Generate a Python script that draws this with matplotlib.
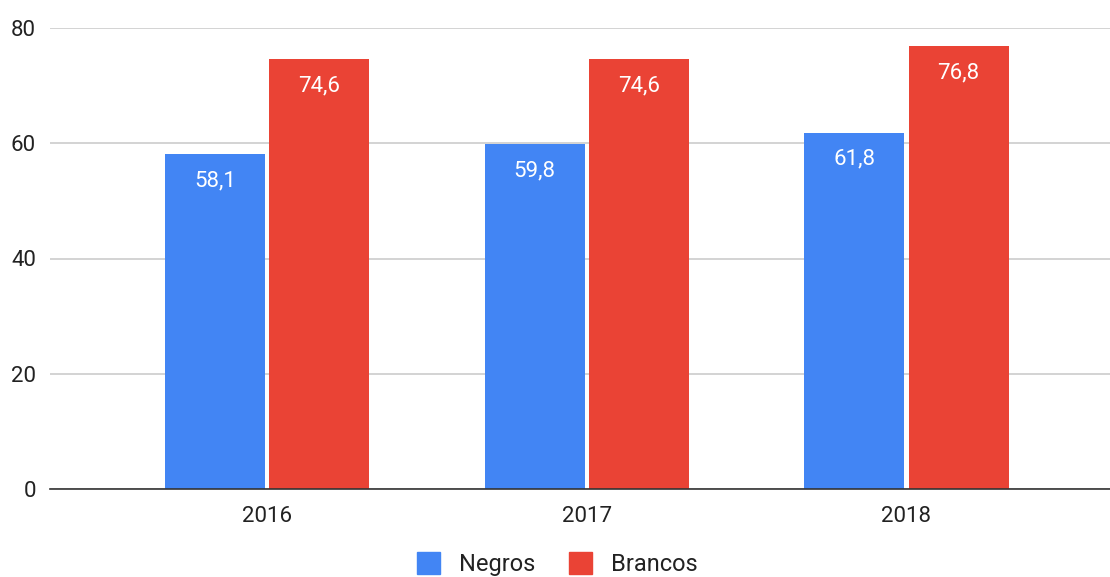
import matplotlib
matplotlib.use("Agg")
import matplotlib.pyplot as plt
from matplotlib.patches import Patch
import numpy as np

plt.rcParams['font.family'] = ['Roboto', 'DejaVu Sans']

years = ['2016', '2017', '2018']
negros = [58.1, 59.8, 61.8]
brancos = [74.6, 74.6, 76.8]
series_names = ['Negros', 'Brancos']
blue = '#4285F4'
red = '#EA4335'

fig = plt.figure(figsize=(11.1, 5.77), dpi=100)
ax = fig.add_axes([50 / 1110, 88 / 577, 1060 / 1110, 461 / 577])

x = np.arange(len(years))
w = 0.313
off = 0.163
b1 = ax.bar(x - off, negros, w, color=blue, zorder=3)
b2 = ax.bar(x + off, brancos, w, color=red, zorder=3)

# value labels inside the top of each bar
for bars, vals in [(b1, negros), (b2, brancos)]:
    for b, v in zip(bars, vals):
        ax.annotate(f"{v:.1f}".replace('.', ','),
                    (b.get_x() + b.get_width() / 2, v),
                    xytext=(0, -19), textcoords='offset points',
                    ha='center', va='center', color='white', fontsize=16)

ax.set_xlim(-0.68, 2.637)
ax.set_ylim(0, 80)
ax.set_yticks([0, 20, 40, 60, 80])
ax.set_xticks(x)
ax.set_xticklabels(years)
ax.grid(axis='y', color='#cccccc', linewidth=1.2, zorder=0)
for s in ['top', 'right', 'left']:
    ax.spines[s].set_visible(False)
ax.spines['bottom'].set_color('#333333')
ax.spines['bottom'].set_linewidth(1.2)
ax.spines['bottom'].set_zorder(4)
ax.tick_params(axis='both', length=0, labelsize=16, labelcolor='#222222')
ax.tick_params(axis='x', pad=12)
ax.tick_params(axis='y', pad=10)

handles = [Patch(color=blue), Patch(color=red)]
fig.legend(handles, series_names, loc='center', bbox_to_anchor=(0.502, 0.022),
           ncol=2, frameon=False, fontsize=17, handlelength=1, handleheight=1,
           handletextpad=0.8, columnspacing=1.4, labelcolor='#222222')

fig.savefig('out.png', dpi=100)
